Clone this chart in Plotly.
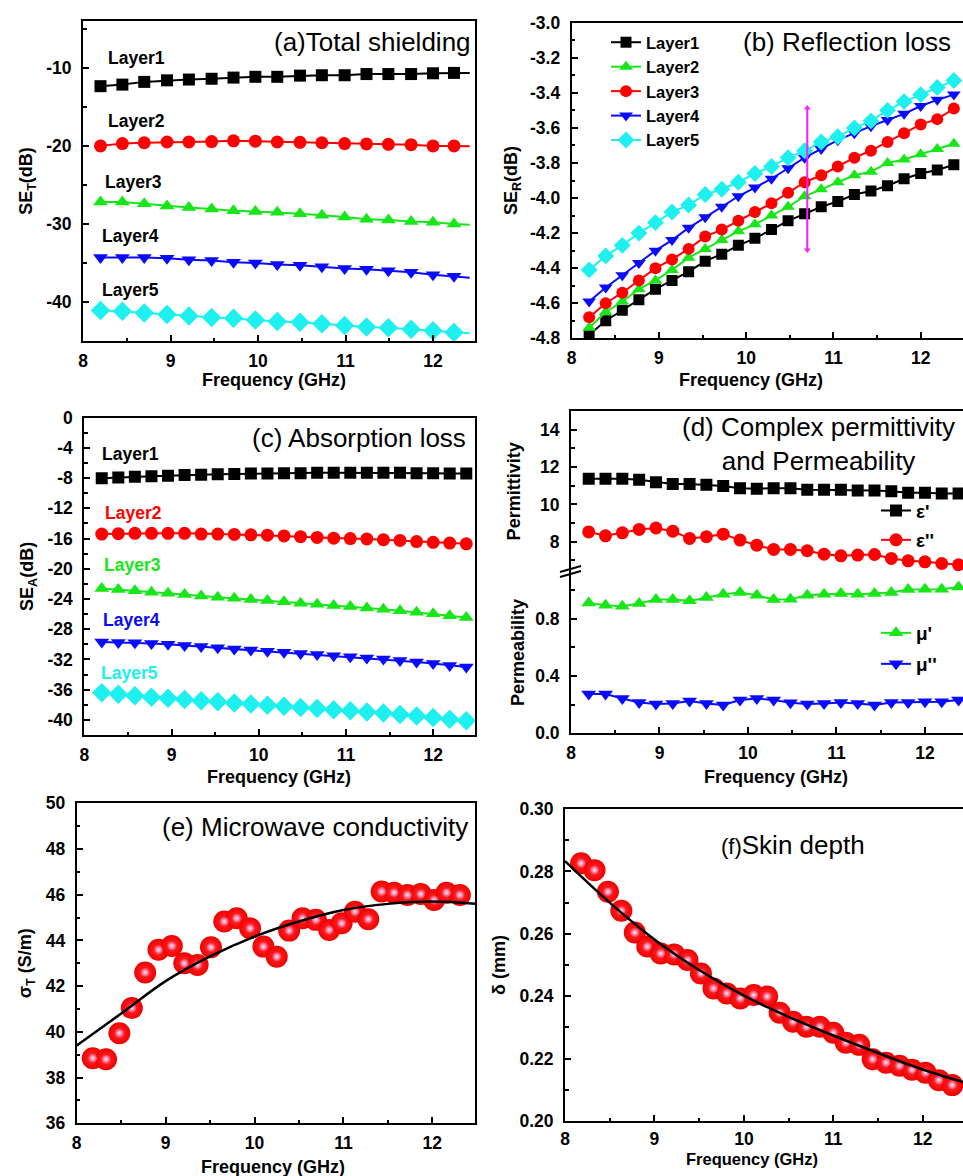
import plotly.graph_objects as go

# ---------------- data ----------------
FREQ_TICKS = [8, 9, 10, 11, 12]
FREQ_TICK_TEXT = ["8", "9", "10", "11", "12"]

# (a) total shielding
A_X = [8.20, 8.45, 8.70, 8.96, 9.21, 9.47, 9.72, 9.97, 10.22, 10.48, 10.73, 10.99, 11.24, 11.49, 11.75, 12.00, 12.24]
A_L1 = [-12.35, -12.15, -11.8, -11.6, -11.5, -11.4, -11.25, -11.15, -11.15, -11.0, -10.95, -10.95, -10.8, -10.8, -10.8, -10.7, -10.65]
A_L2 = [-20.0, -19.7, -19.6, -19.5, -19.5, -19.45, -19.35, -19.4, -19.5, -19.55, -19.6, -19.7, -19.75, -19.8, -19.85, -20.0, -20.0]
A_L3 = [-27.2, -27.2, -27.4, -27.7, -27.9, -28.1, -28.3, -28.4, -28.5, -28.7, -28.9, -29.1, -29.4, -29.5, -29.7, -29.8, -30.0]
A_L4 = [-34.3, -34.3, -34.3, -34.4, -34.6, -34.7, -34.9, -35.0, -35.2, -35.3, -35.5, -35.7, -35.8, -36.0, -36.2, -36.5, -36.7]
A_L5 = [-41.1, -41.2, -41.4, -41.6, -41.8, -42.0, -42.1, -42.3, -42.5, -42.6, -42.8, -43.0, -43.2, -43.3, -43.5, -43.7, -43.9]
A_END_X = 12.42
A_END = [-10.65, -20.05, -30.1, -36.9, -44.0]
A_YTICKS = [-40, -30, -20, -10]
A_YTICK_TEXT = ["-40", "-30", "-20", "-10"]

# (b) reflection loss
B_X = [8.20, 8.39, 8.58, 8.77, 8.96, 9.15, 9.34, 9.53, 9.72, 9.91, 10.10, 10.29, 10.48, 10.67,
       10.86, 11.05, 11.24, 11.43, 11.62, 11.81, 12.00, 12.19, 12.38]
B_L1 = [-4.78, -4.70, -4.64, -4.58, -4.52, -4.47, -4.42, -4.36, -4.32, -4.27, -4.23, -4.18, -4.13, -4.09,
        -4.05, -4.02, -3.98, -3.96, -3.93, -3.89, -3.86, -3.84, -3.81]
B_L2 = [-4.74, -4.65, -4.59, -4.52, -4.47, -4.41, -4.34, -4.29, -4.24, -4.19, -4.15, -4.10, -4.05, -3.99,
        -3.95, -3.91, -3.87, -3.85, -3.80, -3.78, -3.75, -3.72, -3.69]
B_L3 = [-4.68, -4.60, -4.54, -4.47, -4.40, -4.35, -4.29, -4.22, -4.18, -4.13, -4.08, -4.03, -3.97, -3.91,
        -3.87, -3.82, -3.77, -3.73, -3.68, -3.63, -3.58, -3.55, -3.49]
B_L4 = [-4.59, -4.51, -4.44, -4.37, -4.30, -4.24, -4.17, -4.11, -4.05, -3.99, -3.94, -3.89, -3.83, -3.77,
        -3.72, -3.67, -3.63, -3.59, -3.555, -3.52, -3.475, -3.44, -3.41]
B_L5 = [-4.41, -4.33, -4.27, -4.20, -4.14, -4.08, -4.04, -3.98, -3.95, -3.91, -3.86, -3.82, -3.77, -3.73,
        -3.68, -3.65, -3.60, -3.56, -3.50, -3.45, -3.41, -3.37, -3.33]
B_ARROW_X = [10.70, 10.70]
B_ARROW_Y = [-3.486, -4.296]
B_YTICKS = [-4.8, -4.6, -4.4, -4.2, -4.0, -3.8, -3.6, -3.4, -3.2, -3.0]
B_YTICK_TEXT = ["-4.8", "-4.6", "-4.4", "-4.2", "-4.0", "-3.8", "-3.6", "-3.4", "-3.2", "-3.0"]

# (c) absorption loss
C_X = B_X
C_L1 = [-8.0, -7.9, -7.8, -7.75, -7.7, -7.6, -7.55, -7.5, -7.45, -7.4, -7.4, -7.35, -7.35, -7.3,
        -7.3, -7.3, -7.3, -7.3, -7.3, -7.35, -7.35, -7.4, -7.4]
C_L2 = [-15.4, -15.35, -15.3, -15.3, -15.3, -15.3, -15.4, -15.4, -15.45, -15.5, -15.55, -15.65, -15.75, -15.85,
        -15.95, -16.0, -16.05, -16.15, -16.25, -16.4, -16.5, -16.6, -16.7]
C_L3 = [-22.6, -22.75, -22.9, -23.1, -23.25, -23.4, -23.6, -23.75, -23.9, -24.05, -24.2, -24.35, -24.55, -24.7,
        -24.85, -25.0, -25.2, -25.35, -25.55, -25.75, -25.95, -26.2, -26.45]
C_L4 = [-29.7, -29.75, -29.8, -29.9, -30.0, -30.15, -30.3, -30.45, -30.6, -30.75, -30.9, -31.05, -31.2, -31.35,
        -31.5, -31.65, -31.8, -31.95, -32.15, -32.35, -32.55, -32.8, -33.0]
C_L5 = [-36.4, -36.6, -36.8, -37.0, -37.15, -37.3, -37.45, -37.6, -37.75, -37.9, -38.05, -38.2, -38.35, -38.5,
        -38.65, -38.8, -38.95, -39.1, -39.3, -39.5, -39.7, -39.9, -40.1]
C_YTICKS = [-40, -36, -32, -28, -24, -20, -16, -12, -8, -4, 0]
C_YTICK_TEXT = ["-40", "-36", "-32", "-28", "-24", "-20", "-16", "-12", "-8", "-4", "0"]

# (d) complex permittivity and permeability
D_X = B_X
D_EPS1 = [11.37, 11.37, 11.37, 11.32, 11.19, 11.10, 11.10, 11.05, 10.98, 10.87, 10.84, 10.87, 10.87, 10.79,
          10.79, 10.79, 10.75, 10.75, 10.70, 10.63, 10.63, 10.58, 10.58]
D_EPS2 = [8.53, 8.32, 8.48, 8.66, 8.74, 8.57, 8.18, 8.27, 8.41, 8.09, 7.82, 7.59, 7.59, 7.52,
          7.34, 7.25, 7.29, 7.32, 7.11, 6.98, 6.93, 6.84, 6.77]
D_MU1 = [0.912, 0.895, 0.888, 0.907, 0.935, 0.935, 0.926, 0.949, 0.972, 0.984, 0.965, 0.935, 0.937, 0.965,
         0.972, 0.977, 0.972, 0.977, 0.984, 1.005, 1.007, 1.007, 1.023]
D_MU2 = [0.274, 0.274, 0.244, 0.216, 0.205, 0.209, 0.226, 0.209, 0.198, 0.233, 0.244, 0.233, 0.214, 0.205,
         0.209, 0.216, 0.209, 0.198, 0.216, 0.216, 0.221, 0.221, 0.233]
D_EPS_TICKS = [8, 10, 12, 14]
D_EPS_TICK_TEXT = ["8", "10", "12", "14"]
D_MU_TICKS = [0.0, 0.4, 0.8]
D_MU_TICK_TEXT = ["0.0", "0.4", "0.8"]

# (e) microwave conductivity
E_X = [8.18, 8.33, 8.48, 8.62, 8.77, 8.92, 9.07, 9.21, 9.36, 9.51, 9.66, 9.80, 9.95, 10.10, 10.25,
       10.39, 10.54, 10.69, 10.84, 10.98, 11.13, 11.28, 11.43, 11.57, 11.72, 11.87, 12.02, 12.16, 12.31]
E_Y = [38.85, 38.8, 39.94, 41.04, 42.6, 43.59, 43.76, 43.0, 42.93, 43.7, 44.83, 44.97, 44.53, 43.73, 43.29,
       44.43, 44.97, 44.9, 44.46, 44.75, 45.26, 44.93, 46.14, 46.09, 45.99, 46.03, 45.77, 46.09, 45.99]
E_FIT_X = [8.0, 8.5, 9.0, 9.5, 10.0, 10.5, 11.0, 11.5, 12.0, 12.5]
E_FIT_Y = [39.4, 40.8, 42.22, 43.3, 44.17, 44.83, 45.33, 45.6, 45.7, 45.6]
E_YTICKS = [36, 38, 40, 42, 44, 46, 48, 50]
E_YTICK_TEXT = ["36", "38", "40", "42", "44", "46", "48", "50"]

# (f) skin depth
F_X = [8.18, 8.33, 8.48, 8.63, 8.78, 8.92, 9.07, 9.22, 9.37, 9.52, 9.66, 9.81, 9.96, 10.11, 10.26,
       10.40, 10.55, 10.70, 10.85, 11.00, 11.14, 11.29, 11.44, 11.59, 11.74, 11.88, 12.03, 12.18, 12.33]
F_Y = [0.2826, 0.2804, 0.2735, 0.2674, 0.2604, 0.2559, 0.2537, 0.2534, 0.2516, 0.2473, 0.2425, 0.2409, 0.2393,
       0.2404, 0.2399, 0.2347, 0.2318, 0.2302, 0.2302, 0.2283, 0.2251, 0.2244, 0.2198, 0.2187, 0.2177, 0.2164,
       0.2155, 0.2131, 0.2115]
F_FIT_X = [8.0, 8.5, 9.0, 9.5, 10.0, 10.5, 11.0, 11.5, 12.0, 12.45]
F_FIT_Y = [0.2833, 0.2700, 0.2582, 0.2484, 0.2402, 0.2334, 0.2274, 0.2218, 0.2165, 0.2125]
F_YTICKS = [0.20, 0.22, 0.24, 0.26, 0.28, 0.30]
F_YTICK_TEXT = ["0.20", "0.22", "0.24", "0.26", "0.28", "0.30"]

# ---------------- styling helpers ----------------
W, H = 963, 1176
FONT = "Liberation Sans, Arial, sans-serif"
BLACK, RED, GREEN, BLUE, CYAN, MAGENTA = "#000000", "#ff0000", "#19e619", "#0a0aff", "#1ef0f0", "#ff1aff"
TICK_SIZE = 17.5
TITLE_SIZE = 18


def PX(x):
    return x / W


def PY(y):
    return 1 - y / H


def axis(domain, rng, tickvals, ticktext, minor_dtick, minor_tick0, anchor, mirror=True, letter="x",
         title=None, standoff=10, labeloff=None, **kw):
    d = dict(domain=domain, range=rng, anchor=anchor, showline=True, linewidth=2, linecolor="black",
             mirror=mirror, ticks="inside", ticklen=6, tickwidth=1.5, tickcolor="black",
             showgrid=False, zeroline=False, tickmode="array", tickvals=tickvals, ticktext=ticktext,
             ticklabelstandoff=labeloff if labeloff is not None else (3 if letter == "x" else 6),
             automargin=False,
             tickfont=dict(family=FONT, size=TICK_SIZE, color="black", weight="bold"),
             minor=dict(ticks="inside", ticklen=3.5, tickwidth=1.5, tickcolor="black",
                        dtick=minor_dtick, tick0=minor_tick0, showgrid=False))
    if title:
        d["title"] = dict(text=title, standoff=standoff,
                          font=dict(family=FONT, size=TITLE_SIZE, color="black", weight="bold"))
    d.update(kw)
    return d


fig = go.Figure()


def series(x, y, xa, ya, color, symbol, size, name=None, legend=None, mode="lines+markers"):
    fig.add_trace(go.Scatter(
        x=x, y=y, xaxis=xa, yaxis=ya, mode=mode, name=name,
        line=dict(color=color, width=2),
        marker=dict(color=color, symbol=symbol, size=size, line=dict(width=0)),
        showlegend=legend is not None, legend=legend if legend else "legend",
        hoverinfo="skip"))


# (a)
A_SERIES = [(A_L1, BLACK, "square", 12), (A_L2, RED, "circle", 13), (A_L3, GREEN, "triangle-up", 13),
            (A_L4, BLUE, "triangle-down", 13), (A_L5, CYAN, "diamond", 15)]
for (vals, col, sym, sz), end in zip(A_SERIES, A_END):
    series(A_X + [A_END_X], vals + [end], "x", "y", col, sym, sz, mode="lines")
    series(A_X, vals, "x", "y", col, sym, sz, mode="markers")

# (b)
B_SERIES = [("Layer1", B_L1, BLACK, "square", 11), ("Layer2", B_L2, GREEN, "triangle-up", 12),
            ("Layer3", B_L3, RED, "circle", 12), ("Layer4", B_L4, BLUE, "triangle-down", 12),
            ("Layer5", B_L5, CYAN, "diamond", 13)]
for name, vals, col, sym, sz in B_SERIES:
    series(B_X, vals, "x2", "y2", col, sym, sz, name=name, legend="legend")
# magenta double arrow
fig.add_trace(go.Scatter(x=B_ARROW_X, y=B_ARROW_Y, xaxis="x2", yaxis="y2", mode="lines+markers",
                         showlegend=False, hoverinfo="skip", line=dict(color=MAGENTA, width=2),
                         marker=dict(color=MAGENTA, size=6, symbol=["triangle-up", "triangle-down"])))

# (c)
C_SERIES = [(C_L1, BLACK, "square", 12), (C_L2, RED, "circle", 13), (C_L3, GREEN, "triangle-up", 13),
            (C_L4, BLUE, "triangle-down", 13), (C_L5, CYAN, "diamond", 15)]
for vals, col, sym, sz in C_SERIES:
    series(C_X, vals, "x3", "y3", col, sym, sz)

# (d)
series(D_X, D_EPS1, "x5", "y5", BLACK, "square", 12, name="ε'", legend="legend2")
series(D_X, D_EPS2, "x5", "y5", RED, "circle", 13, name="ε''", legend="legend3")
series(D_X, D_MU1, "x4", "y4", GREEN, "triangle-up", 13, name="μ'", legend="legend4")
series(D_X, D_MU2, "x4", "y4", BLUE, "triangle-down", 13, name="μ''", legend="legend5")

# (e) and (f) spheres + fitted curves
for xs, ys, xa, ya in [(E_X, E_Y, "x6", "y6"), (F_X, F_Y, "x7", "y7")]:
    fig.add_trace(go.Scatter(x=xs, y=ys, xaxis=xa, yaxis=ya, mode="markers", showlegend=False,
                             marker=dict(size=22, color="#f00000", line=dict(width=0),
                                         gradient=dict(type="radial", color="#ff3030")),
                             hoverinfo="skip"))
    fig.add_trace(go.Scatter(x=xs, y=ys, xaxis=xa, yaxis=ya, mode="markers", showlegend=False,
                             marker=dict(size=9, color="#ff3050", line=dict(width=0),
                                         gradient=dict(type="radial", color="#f4ecff")),
                             hoverinfo="skip"))
fig.add_trace(go.Scatter(x=E_FIT_X, y=E_FIT_Y, xaxis="x6", yaxis="y6", mode="lines", showlegend=False,
                         line=dict(color="black", width=2.5, shape="spline"), hoverinfo="skip"))
fig.add_trace(go.Scatter(x=F_FIT_X, y=F_FIT_Y, xaxis="x7", yaxis="y7", mode="lines", showlegend=False,
                         line=dict(color="black", width=2.5, shape="spline"), hoverinfo="skip"))

# ---------------- axes ----------------
lay = {}
lay["xaxis"] = axis([PX(83), PX(475)], [8, 12.48], FREQ_TICKS, FREQ_TICK_TEXT, 0.5, 8, "y")
lay["yaxis"] = axis([PY(341), PY(21)], [-45, -4], A_YTICKS, A_YTICK_TEXT, 5, -45, "x", letter="y",
                    title="SE<sub>T</sub>(dB)", standoff=9)
lay["xaxis2"] = axis([PX(571.7), 1.0], [8, 12.485], FREQ_TICKS, FREQ_TICK_TEXT, 0.5, 8, "y2")
lay["yaxis2"] = axis([PY(338.3), PY(22.7)], [-4.8, -3.0], B_YTICKS, B_YTICK_TEXT, 0.1, -4.8, "x2", mirror=False,
                     letter="y", title="SE<sub>R</sub>(dB)", standoff=8)
lay["xaxis3"] = axis([PX(84.3), PX(475)], [8, 12.48], FREQ_TICKS, FREQ_TICK_TEXT, 0.5, 8, "y3")
lay["yaxis3"] = axis([PY(735), PY(417.7)], [-42, 0], C_YTICKS, C_YTICK_TEXT, 2, -42, "x3", letter="y",
                     title="SE<sub>A</sub>(dB)", standoff=9)
lay["xaxis4"] = axis([PX(571), 1.0], [8, 12.43], FREQ_TICKS, FREQ_TICK_TEXT, 0.5, 8, "y4", mirror=False)
lay["yaxis4"] = axis([PY(733.3), PY(571.7)], [0, 1.13], D_MU_TICKS, D_MU_TICK_TEXT, 0.2, 0, "x4", mirror=False,
                     letter="y", title="Permeability", standoff=6)
lay["xaxis5"] = axis([PX(571), 1.0], [8, 12.43], FREQ_TICKS, FREQ_TICK_TEXT, 0.5, 8, "y5", mirror=False,
                     side="top", ticks="", showticklabels=False, minor=dict(ticks=""))
lay["yaxis5"] = axis([PY(571.7), PY(411)], [6.4, 15], D_EPS_TICKS, D_EPS_TICK_TEXT, 1, 6, "x5", mirror=False,
                     letter="y", title="Permittivity", standoff=15)
lay["xaxis6"] = axis([PX(76.7), PX(475)], [8, 12.48], FREQ_TICKS, FREQ_TICK_TEXT, 0.5, 8, "y6")
lay["yaxis6"] = axis([PY(1123.3), PY(803.3)], [36, 50], E_YTICKS, E_YTICK_TEXT, 1, 36, "x6", letter="y",
                     title="σ<sub>T</sub> (S/m)", standoff=9)
lay["xaxis7"] = axis([PX(565), 1.0], [8, 12.45], FREQ_TICKS, FREQ_TICK_TEXT, 0.5, 8, "y7", labeloff=1)
lay["yaxis7"] = axis([PY(1121), PY(809)], [0.20, 0.30], F_YTICKS, F_YTICK_TEXT, 0.01, 0.20, "x7", mirror=False,
                     letter="y", title="δ (mm)", standoff=9)

# ---------------- legends ----------------
def legend_box(xpx, ypx, size, yanchor="middle"):
    return dict(x=PX(xpx), y=PY(ypx), xanchor="left", yanchor=yanchor, xref="paper", yref="paper",
                bgcolor="rgba(0,0,0,0)", borderwidth=0, tracegroupgap=0,
                font=dict(family=FONT, size=size, color="black", weight="bold"))


lay["legend"] = legend_box(606, 25, 16.5, yanchor="top")
lay["legend2"] = legend_box(876, 510.7, 19)
lay["legend3"] = legend_box(876, 540, 19)
lay["legend4"] = legend_box(876, 633, 19)
lay["legend5"] = legend_box(876, 664, 19)

# ---------------- text ----------------
ann = []


def text(t, xpx, ypx, size, color="black", xanchor="center", bold=True):
    ann.append(dict(text=t, x=PX(xpx), y=PY(ypx), xref="paper", yref="paper", showarrow=False,
                    xanchor=xanchor, yanchor="middle",
                    font=dict(family=FONT, size=size, color=color, weight="bold" if bold else "normal")))


# panel titles
text("(a)Total shielding", 473, 42, 26, xanchor="right", bold=False)
text("(b) Reflection loss", 953, 42, 26, xanchor="right", bold=False)
text("(c) Absorption loss", 468, 438, 26, xanchor="right", bold=False)
text("(d) Complex permittivity<br>and Permeability", 818, 444, 26, bold=False)
text("(e) Microwave conductivity", 470, 827, 26, xanchor="right", bold=False)
text("<span style='font-size:22px'>(f)</span>Skin depth", 719, 845, 26, xanchor="left", bold=False)

# layer labels in (a) and (c)
A_LABELS = [("Layer1", 106, 58.3), ("Layer2", 106, 120.7), ("Layer3", 103, 181.7), ("Layer4", 100, 236),
            ("Layer5", 100, 289.7)]
for t, xp, yp in A_LABELS:
    text(t, xp, yp, 17.5, xanchor="left")
C_LABELS = [("Layer1", 100, 454, BLACK), ("Layer2", 103, 513, RED), ("Layer3", 102, 565, GREEN),
            ("Layer4", 101, 620, BLUE), ("Layer5", 99, 673, CYAN)]
for t, xp, yp, col in C_LABELS:
    text(t, xp, yp, 17.5, color=col, xanchor="left")

# x axis titles
for xp, yp, sz in [(274, 380, 18), (751, 380, 18), (279, 777, 18), (776, 777, 18), (273, 1166.7, 18),
                   (752, 1159, 16.5)]:
    text("Frequency (GHz)", xp, yp, sz)

# axis break marks in (d)
shapes = []
for dy in (0, 5):
    shapes.append(dict(type="line", xref="paper", yref="paper", x0=PX(560), y0=PY(572 + dy),
                       x1=PX(581), y1=PY(566 + dy), line=dict(color="black", width=2)))

fig.update_layout(**lay)
fig.update_layout(width=W, height=H, margin=dict(l=0, r=0, t=0, b=0), paper_bgcolor="white",
                  plot_bgcolor="white", annotations=ann, shapes=shapes,
                  font=dict(family=FONT, color="black"))
fig.write_html("out.html")
